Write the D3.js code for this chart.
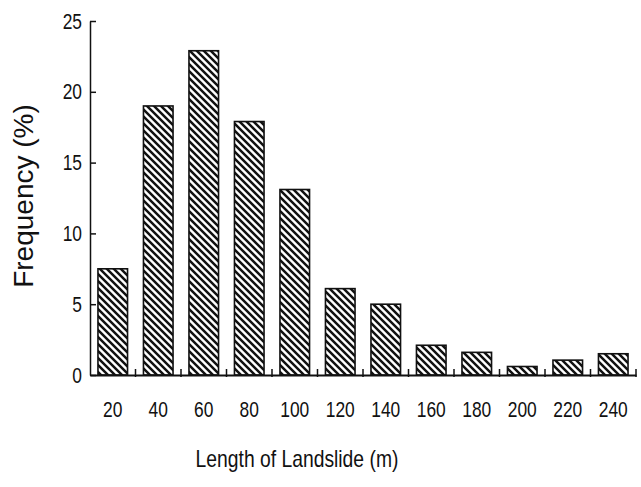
<!DOCTYPE html>
<html>
<head>
<meta charset="utf-8">
<script src="https://cdn.jsdelivr.net/npm/d3@7"></script>
<style>
    body { margin: 0; background: #fff; }
    svg { display: block; }
</style>
</head>
<body>
<div class="bar-chart"></div>
<script>

    var lengths = ["20", "40", "60", "80", "100", "120", "140", "160", "180", "200", "220", "240"];
    var frequency = [7.5, 19.0, 22.9, 17.9, 13.1, 6.1, 5.0, 2.1, 1.6, 0.6, 1.05, 1.5];
    var yTicks = [0, 5, 10, 15, 20, 25];

    // no narrow face installed, so the regular one gets squeezed
    var font = "'Liberation Sans', Arial, sans-serif";
    var squeeze = 0.79;

    var margin = {top: 21, right: 5, bottom: 112, left: 90},
        width = 641 - margin.left - margin.right,
        height = 487 - margin.top - margin.bottom;

    var svg = d3.select(".bar-chart").append("svg")
        .attr("width", 641)
        .attr("height", 487);

    // diagonal hatch, top-left to bottom-right
    svg.append("defs").append("pattern")
        .attr("id", "hatch")
        .attr("patternUnits", "userSpaceOnUse")
        .attr("width", 7)
        .attr("height", 7)
        .append("path")
        .attr("d", "M0,0L7,7M-1,6L1,8M6,-1L8,1")
        .attr("stroke", "#111")
        .attr("stroke-width", 2.5);

    var g = svg.append("g")
        .attr("transform", "translate(" + margin.left + "," + margin.top + ")");

    var x = d3.scaleBand()
        .domain(lengths)
        .range([0, width])
        .paddingInner(0.35)
        .paddingOuter(0.175);

    var y = d3.scaleLinear()
        .domain([0, 25])
        .range([height, 0]);

    // bars
    g.selectAll(".bar")
        .data(frequency)
        .enter().append("rect")
        .attr("class", "bar")
        .attr("x", function(d, i) { return x(lengths[i]); })
        .attr("width", x.bandwidth())
        .attr("y", function(d) { return y(d); })
        .attr("height", function(d) { return y(0) - y(d); })
        .attr("fill", "url(#hatch)")
        .attr("stroke", "#111")
        .attr("stroke-width", 1.6);

    // y axis
    var yAxis = g.append("g")
        .call(d3.axisLeft(y).tickValues(yTicks).tickSizeInner(-6).tickSizeOuter(0).tickPadding(8));
    yAxis.select(".domain").attr("stroke", "#111").attr("stroke-width", 1.5);
    yAxis.selectAll(".tick line").attr("stroke", "#111").attr("stroke-width", 1.5);
    yAxis.selectAll(".tick text")
        .attr("x", -8 / squeeze)
        .attr("transform", "scale(" + squeeze + ",1)")
        .style("font-family", font)
        .style("font-size", "22px")
        .attr("fill", "#111");

    // x axis: labels under bars, ticks at the band edges
    var xAxis = g.append("g")
        .attr("transform", "translate(0," + height + ")")
        .call(d3.axisBottom(x).tickSize(0).tickPadding(26));
    xAxis.select(".domain").attr("stroke", "#111").attr("stroke-width", 1.8);
    xAxis.selectAll(".tick text")
        .attr("transform", "scale(" + squeeze + ",1)")
        .style("font-family", font)
        .style("font-size", "22px")
        .attr("fill", "#111");

    g.selectAll(".edge")
        .data(lengths)
        .enter().append("line")
        .attr("class", "edge")
        .attr("x1", function(d) { return x(d) + x.bandwidth() + x.step() * 0.175; })
        .attr("x2", function(d) { return x(d) + x.bandwidth() + x.step() * 0.175; })
        .attr("y1", height - 6)
        .attr("y2", height + 2)
        .attr("stroke", "#111")
        .attr("stroke-width", 1.5);

    // axis titles
    svg.append("text")
        .attr("transform", "translate(33," + (margin.top + 175) + ") rotate(-90)")
        .attr("text-anchor", "middle")
        .style("font-family", font)
        .style("font-size", "28px")
        .attr("fill", "#111")
        .text("Frequency (%)");

    svg.append("g")
        .attr("transform", "translate(297,467) scale(0.84,1)")
        .append("text")
        .attr("text-anchor", "middle")
        .style("font-family", font)
        .style("font-size", "23px")
        .attr("fill", "#111")
        .text("Length of Landslide (m)");

</script>
</body>
</html>
